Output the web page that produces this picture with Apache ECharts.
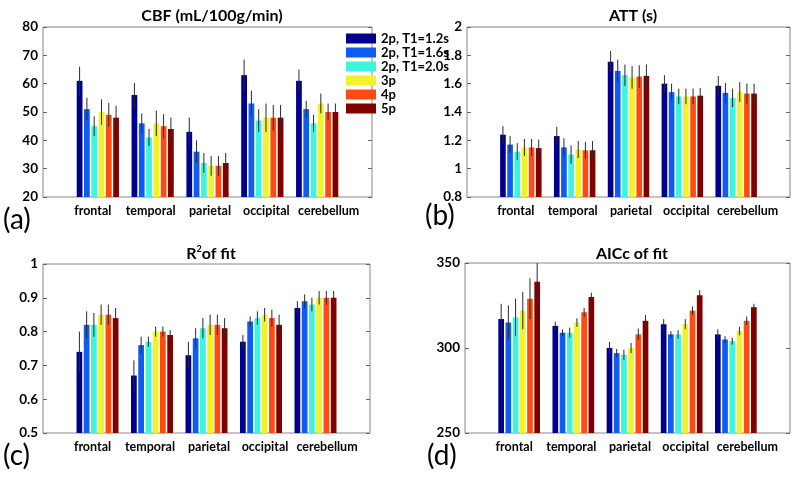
<!DOCTYPE html>
<html><head><meta charset="utf-8">
<script src="https://cdn.jsdelivr.net/npm/echarts@6/dist/echarts.min.js"></script>
<style>html,body{margin:0;padding:0;background:#fff}#c{width:800px;height:479px}</style>
</head><body><div id="c"></div>
<script>
const categories = ['frontal','temporal','parietal','occipital','cerebellum'];
const seriesNames = ['2p, T1=1.2s','2p, T1=1.6s','2p, T1=2.0s','3p','4p','5p'];
const colors = ['#00008C','#0F5CF2','#3CF5DC','#F2F22A','#FF4A12','#800000'];

// CBF (mL/100g/min): [series][category]
const cbfMean = [[61,56,43,63,61],[51,46,36,53,51],[45,41,32,47,46],[50,46,31,48,53],[49,45,31,48,50],[48,44,32,48,50]];
const cbfErr  = [[5,4.2,5,5.5,4],[4,3.5,4,4.5,3],[3.5,3,3.5,4,3],[4.5,4.5,3.5,5,3.5],[4.2,4.2,3.5,4.5,3],[4.2,4,3.5,4.5,3]];
// ATT (s)
const attMean = [[1.24,1.23,1.755,1.60,1.585],[1.17,1.15,1.69,1.54,1.535],[1.12,1.10,1.66,1.51,1.50],[1.15,1.135,1.645,1.51,1.54],[1.15,1.13,1.65,1.51,1.53],[1.145,1.13,1.655,1.515,1.53]];
const attErr  = [[0.06,0.065,0.075,0.06,0.07],[0.06,0.065,0.08,0.06,0.07],[0.06,0.065,0.075,0.055,0.065],[0.06,0.06,0.08,0.055,0.07],[0.06,0.06,0.08,0.055,0.07],[0.06,0.065,0.08,0.055,0.07]];
// R^2 of fit
const r2Mean = [[0.74,0.67,0.73,0.77,0.87],[0.82,0.76,0.78,0.83,0.89],[0.82,0.77,0.81,0.84,0.88],[0.85,0.80,0.82,0.85,0.90],[0.85,0.80,0.82,0.84,0.90],[0.84,0.79,0.81,0.82,0.90]];
const r2Err  = [[0.06,0.045,0.04,0.02,0.02],[0.04,0.025,0.03,0.015,0.02],[0.035,0.015,0.03,0.02,0.02],[0.03,0.015,0.03,0.02,0.02],[0.03,0.015,0.03,0.025,0.02],[0.03,0.015,0.03,0.03,0.02]];
// AICc of fit
const aicMean = [[317,313,300,314,308],[315,309,297,308,305],[318,309,296,308,304],[322,315,300,314,310],[329,321,308,322,316],[339,330,316,331,324]];
const aicErr  = [[9,2.5,3.5,3,3],[10,2,2.5,2,2],[11,3,3,2.5,2],[11,2.5,3,3,2.5],[12,2.5,3.5,2.5,2.5],[12,2.5,3.5,3,2]];

const yMin = [20, 0.8, 0.5, 250];
const yMax = [80, 2, 1, 350];
const yInt = [10, 0.2, 0.1, 50];
const panelMeans = [cbfMean, attMean, r2Mean, aicMean];
const panelErrs = [cbfErr, attErr, r2Err, aicErr];

const FONT = 'Lato';
const FW = 'bold';
const PITCH = 0.133, BW = 0.105;
// horizontal nudges (px) of the category labels, which sit as one spaced line in the original
const labelShift = [-5, -2, 2.5, 4, 11.5];
const grids = [
  {left:43, top:27, width:329, height:170},
  {left:467, top:27, width:323, height:170},
  {left:43, top:264, width:327, height:169},
  {left:465, top:263, width:325, height:170}
];

function makeRender(si, ymin){
  return function(params, api){
    const x = api.value(0) + (si - 2.5) * PITCH;
    const v = api.value(1), e = api.value(2);
    const p0 = api.coord([x - BW/2, v]);
    const p1 = api.coord([x + BW/2, ymin]);
    const t = api.coord([x, v + e]);
    const b = api.coord([x, v - e]);
    return {type:'group', children:[
      {type:'rect', shape:{x:p0[0], y:p0[1], width:p1[0]-p0[0], height:p1[1]-p0[1]}, style:{fill:colors[si]}},
      {type:'line', shape:{x1:t[0], y1:t[1], x2:b[0], y2:b[1]}, style:{stroke:'#2a2a2a', lineWidth:1}}
    ]};
  };
}

const labelRich = {};
labelShift.forEach((s, i) => {
  labelRich['c' + i] = {fontSize:12.5, fontWeight:FW, fontFamily:FONT, color:'#000',
    padding: s < 0 ? [0, -2*s, 0, 0] : [0, 0, 0, 2*s]};
});

const xAxis = [], yAxis = [], series = [];
for (let p = 0; p < 4; p++) {
  xAxis.push({gridIndex:p, type:'value', min:0, max:6, interval:1,
    axisLine:{show:false}, splitLine:{show:false}, axisTick:{show:false},
    axisLabel:{color:'#000', fontSize:12.5, fontWeight:FW, fontFamily:FONT, margin:7, rich:labelRich,
      formatter: v => (v >= 1 && v <= 5) ? '{c' + (v-1) + '|' + categories[v-1] + '}' : ''}});
  yAxis.push({gridIndex:p, type:'value', min:yMin[p], max:yMax[p], interval:yInt[p],
    axisLine:{show:false}, splitLine:{show:false},
    axisTick:{show:true, inside:true, length:4, lineStyle:{color:'#666'}},
    axisLabel:{color:'#000', fontSize:13.5, fontWeight:FW, fontFamily:FONT, margin:5}});
  yAxis.push({gridIndex:p, type:'value', position:'right', min:yMin[p], max:yMax[p], interval:yInt[p],
    axisLine:{show:false}, splitLine:{show:false},
    axisTick:{show:true, inside:true, length:4, lineStyle:{color:'#666'}},
    axisLabel:{show:false}});
  for (let s = 0; s < 6; s++) {
    series.push({type:'custom', name:seriesNames[s], xAxisIndex:p, yAxisIndex:p*2, clip:true,
      itemStyle:{color:colors[s]},
      renderItem: makeRender(s, yMin[p]),
      data: categories.map((c, j) => [j+1, panelMeans[p][s][j], panelErrs[p][s][j]])});
  }
}

const titleStyle = {fontSize:16, fontWeight:FW, color:'#000', fontFamily:FONT};
const chart = echarts.init(document.getElementById('c'), null, {renderer:'canvas'});
chart.setOption({
  animation:false,
  color: colors,
  textStyle:{fontFamily:FONT},
  grid: grids.map(g => Object.assign({show:true, borderColor:'#888', borderWidth:1, backgroundColor:'transparent'}, g)),
  xAxis, yAxis, series,
  title: [
    {text:'CBF (mL/100g/min)', left:207, top:3, textAlign:'center', textStyle:titleStyle},
    {text:'ATT (s)', left:628, top:3, textAlign:'center', textStyle:titleStyle},
    {text:'R{sup|2}of fit', left:206, top:240, textAlign:'center', textStyle:Object.assign({}, titleStyle, {
      rich:{sup:{fontSize:9, fontWeight:FW, color:'#000', fontFamily:FONT, padding:[0,0,8,0]}}})},
    {text:'AICc of fit', left:627, top:241, textAlign:'center', textStyle:titleStyle}
  ],
  legend: {data:seriesNames, orient:'vertical', left:341, top:27, icon:'rect', itemWidth:30, itemHeight:10, itemGap:1,
    textStyle:{fontSize:13, fontWeight:FW, color:'#000', fontFamily:FONT, lineHeight:13}},
  graphic: [
    {type:'text', left:3, top:206, style:{text:'(a)', fontSize:28, fontFamily:FONT, fill:'#000'}},
    {type:'text', left:425, top:202, style:{text:'(b)', fontSize:28, fontFamily:FONT, fill:'#000'}},
    {type:'text', left:3, top:442, style:{text:'(c)', fontSize:28, fontFamily:FONT, fill:'#000'}},
    {type:'text', left:427, top:442, style:{text:'(d)', fontSize:28, fontFamily:FONT, fill:'#000'}}
  ]
});
</script></body></html>
